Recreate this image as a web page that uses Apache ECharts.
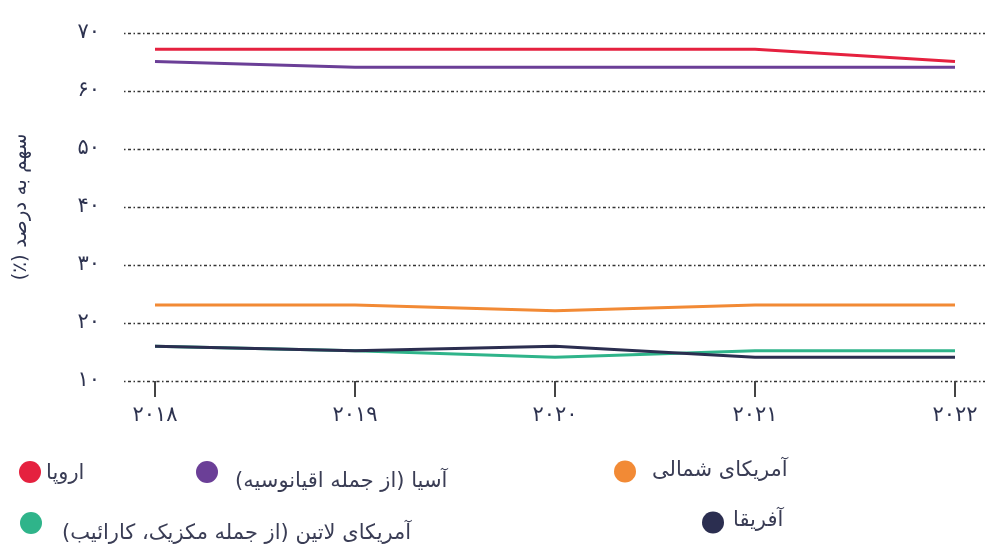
<!DOCTYPE html>
<html><head><meta charset="utf-8">
<script src="https://cdn.jsdelivr.net/npm/echarts@6/dist/echarts.min.js"></script>
<style>html,body{margin:0;padding:0;background:#fff}#c{width:987px;height:546px}</style>
</head><body><div id="c"></div>
<script>
const years = [2018, 2019, 2020, 2021, 2022];
const seriesNames = ['اروپا', 'آسیا (از جمله اقیانوسیه)', 'آمریکای شمالی', 'آمریکای لاتین (از جمله مکزیک، کارائیب)', 'آفریقا'];
const europe = [67.2, 67.2, 67.2, 67.2, 65.1];
const asia = [65.1, 64.1, 64.1, 64.1, 64.1];
const northAmerica = [23.1, 23.1, 22.1, 23.1, 23.1];
const latinAmerica = [16.0, 15.2, 14.1, 15.2, 15.2];
const africa = [16.0, 15.2, 16.0, 14.1, 14.1];
const yTicks = [10, 20, 30, 40, 50, 60, 70];
const yAxisTitle = 'سهم به درصد (٪)';

const colors = ['#e5213f', '#6b3f97', '#f28a35', '#2fb48a', '#2b2e50'];
const allValues = [europe, asia, northAmerica, latinAmerica, africa];
const fa = s => String(s).replace(/\d/g, d => '۰۱۲۳۴۵۶۷۸۹'[d]);
const rtl = s => '\u202B' + s + '\u202C';
const FONT = '"DejaVu Sans", Tahoma, sans-serif';
const textColor = '#2e3350';

// left, top of legend; rich padding [top, right, bottom, left] for text offset
const legendPos = [
  {left: 14, top: 456, pad: [4, 0, 0, 0]},
  {left: 191, top: 456, pad: [20, 0, 0, 12]},
  {left: 609, top: 455, pad: [0, 0, 2, 11]},
  {left: 15, top: 507, pad: [22, 0, 0, 15]},
  {left: 697, top: 505, pad: [0, 0, 4, 4]}
];

const chart = echarts.init(document.getElementById('c'));
chart.setOption({
  animation: false,
  color: colors,
  grid: {left: 124, right: 2, top: 33, bottom: 165, containLabel: false},
  legend: seriesNames.map((n, i) => ({
    data: [n], left: legendPos[i].left, top: legendPos[i].top,
    icon: 'circle', itemWidth: 22, itemHeight: 22,
    formatter: name => '{p|' + rtl(name) + '}',
    textStyle: {fontFamily: FONT, fontSize: 21, color: '#3a3d55',
      rich: {p: {fontFamily: FONT, fontSize: 21, color: '#3a3d55', padding: legendPos[i].pad}}}
  })),
  xAxis: {
    type: 'value', min: 2017.845, max: 2022.15,
    splitLine: {show: false},
    axisLine: {show: false},
    axisTick: {show: true, customValues: years, length: 16, lineStyle: {color: '#444', width: 2}},
    axisLabel: {customValues: years, formatter: v => fa(v), fontFamily: FONT, fontSize: 21,
      color: textColor, margin: 24}
  },
  yAxis: {
    type: 'value', min: 10, max: 70, interval: 10,
    name: rtl(yAxisTitle), nameLocation: 'middle', nameGap: 93,
    nameTextStyle: {fontFamily: FONT, fontSize: 20, color: textColor},
    axisLine: {show: false}, axisTick: {show: false},
    axisLabel: {formatter: v => fa(v), fontFamily: FONT, fontSize: 21, color: textColor, margin: 24},
    splitLine: {show: true, lineStyle: {color: '#333', width: 1.3, type: [1.5, 2.5, 3, 2.5]}}
  },
  series: seriesNames.map((n, i) => ({
    name: n, type: 'line', symbol: 'none',
    lineStyle: {width: 3, color: colors[i]},
    itemStyle: {color: colors[i]},
    data: years.map((y, j) => [y, allValues[i][j]])
  }))
});
</script></body></html>
